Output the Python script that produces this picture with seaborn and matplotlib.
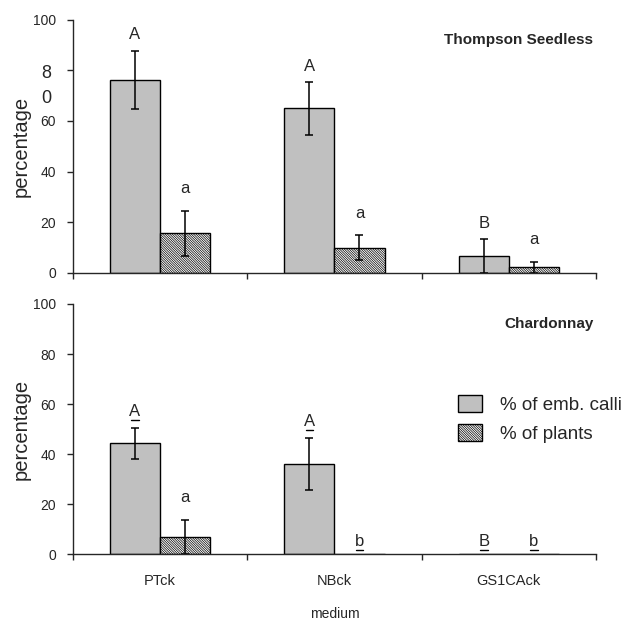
import matplotlib
matplotlib.use("Agg")
import matplotlib.pyplot as plt
from matplotlib.transforms import ScaledTranslation
import seaborn as sns
import pandas as pd

# categories / series
media = ["PTck", "NBck", "GS1CAck"]
series = ["% of emb. calli", "% of plants"]

# Thompson Seedless
ts_calli = [76.2, 65.0, 6.6]
ts_calli_err = [11.6, 10.4, 6.6]
ts_plants = [15.5, 9.8, 2.1]
ts_plants_err = [9.0, 5.0, 2.1]
ts_calli_letters = ["A", "A", "B"]
ts_plants_letters = ["a", "a", "a"]
ts_calli_under = [False, False, False]
ts_plants_under = [False, False, False]

# Chardonnay
ch_calli = [44.4, 36.2, 0.0]
ch_calli_err = [6.2, 10.4, 0.0]
ch_plants = [7.0, 0.0, 0.0]
ch_plants_err = [6.8, 0.0, 0.0]
ch_calli_letters = ["A", "A", "B"]
ch_plants_letters = ["a", "b", "b"]
ch_calli_under = [True, True, True]
ch_plants_under = [False, True, True]

yticks = [0, 20, 40, 60, 80, 100]

sns.set_style("ticks")
plt.rcParams["font.family"] = ["Liberation Sans", "DejaVu Sans"]
plt.rcParams["hatch.linewidth"] = 0.5


def draw_panel(ax, title, calli, calli_err, plants, plants_err,
               let_c, let_p, und_c, und_p, show_legend):
    df = pd.DataFrame({
        "medium": media * 2,
        "series": [series[0]] * len(media) + [series[1]] * len(media),
        "value": calli + plants,
    })
    sns.barplot(data=df, x="medium", y="value", hue="series", order=media,
                hue_order=series, palette=["#c0c0c0", "white"], saturation=1,
                width=0.575, edgecolor="black", linewidth=1, errorbar=None, ax=ax)

    # hatch the plants bars
    for bar in ax.containers[1]:
        bar.set_hatch("\\" * 14)

    for cont, errs, lets, unds in zip(ax.containers, [calli_err, plants_err],
                                      [let_c, let_p], [und_c, und_p]):
        for bar, e, l, u in zip(cont, errs, lets, unds):
            x = bar.get_x() + bar.get_width() / 2
            h = bar.get_height()
            if e > 0:
                ax.errorbar(x, h, yerr=e, fmt="none", ecolor="black",
                            elinewidth=1.1, capsize=3, capthick=1.1)
            top = h + e
            if top == 0:
                gap = 3.5
            elif l.isupper():
                gap = 4.5
            else:
                gap = 7
            ax.text(x, top + gap, l, ha="center", va="baseline", fontsize=12)
            if u:
                ax.plot([x - 0.022, x + 0.022], [top + gap - 1.6] * 2,
                        color="black", lw=1)

    ax.set_ylim(0, 100)
    ax.set_xlim(-0.5, len(media) - 0.5)
    ax.set_xticks([i - 0.5 for i in range(len(media) + 1)], minor=True)
    ax.tick_params(axis="x", which="major", length=0, labelsize=10.5, pad=14)
    ax.tick_params(axis="x", which="minor", length=4, width=1, direction="out")
    ax.tick_params(axis="y", length=4, width=1, labelsize=10, pad=8)
    ax.set_ylabel("percentage", fontsize=14.5, labelpad=2)
    ax.text(0.995, 0.92, title, transform=ax.transAxes, ha="right",
            va="center", fontsize=11, fontweight="bold")
    sns.despine(ax=ax)
    for s in ["left", "bottom"]:
        ax.spines[s].set_linewidth(1)

    leg = ax.get_legend()
    if leg is not None:
        leg.remove()
    if show_legend:
        ax.legend(handles=[ax.containers[0][0], ax.containers[1][0]], labels=series,
                  loc="center left", bbox_to_anchor=(0.721, 0.54), frameon=False,
                  borderaxespad=0, fontsize=13.5, handlelength=1.28,
                  handleheight=1.0, handletextpad=1.0, labelspacing=0.55)


fig = plt.figure(figsize=(6.28, 6.21), dpi=100)
ax1 = fig.add_axes([0.116, 0.561, 0.833, 0.407])
ax2 = fig.add_axes([0.116, 0.1074, 0.833, 0.4031])

draw_panel(ax1, "Thompson Seedless", ts_calli, ts_calli_err, ts_plants, ts_plants_err,
           ts_calli_letters, ts_plants_letters, ts_calli_under, ts_plants_under, False)
draw_panel(ax2, "Chardonnay", ch_calli, ch_calli_err, ch_plants, ch_plants_err,
           ch_calli_letters, ch_plants_letters, ch_calli_under, ch_plants_under, True)

# top panel: no category labels, and the odd split "80" label
ax1.set_xticklabels([])
ax1.set_xlabel("")
top_labels = [str(t) for t in yticks]
top_labels[4] = "8\n0"
ax1.set_yticks(yticks, top_labels)
lab80 = ax1.get_yticklabels()[4]
lab80.set_fontsize(13)
lab80.set_linespacing(1.6)
lab80.set_transform(lab80.get_transform()
                    + ScaledTranslation(-0.05, -0.1, fig.dpi_scale_trans))

ax2.set_yticks(yticks, [str(t) for t in yticks])
ax2.set_xlabel("medium", fontsize=10, labelpad=14)

fig.savefig("out.png", dpi=100)
